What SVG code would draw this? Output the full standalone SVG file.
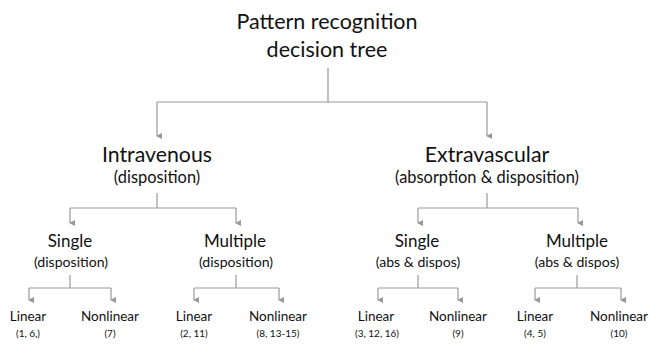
<svg xmlns="http://www.w3.org/2000/svg" width="650" height="349" viewBox="0 0 650 349">
<defs>
<style>
text{font-family:Lato,"Open Sans","Liberation Sans",sans-serif;fill:#111;text-anchor:middle}
.t0{font-size:21.5px}
.t1{font-size:21.3px}
.s1{font-size:16.4px}
.t2{font-size:17px}
.s2{font-size:14.1px}
.t3{font-size:13.5px}
.s3{font-size:10px}
.c{fill:none;stroke:#999;stroke-width:1.2}
</style>
<marker id="ah" markerWidth="6" markerHeight="6" refX="3" refY="5" orient="auto" markerUnits="userSpaceOnUse" viewBox="0 0 6 6">
<path d="M0,0 L6,0 L3,6 Z" fill="#999"/>
</marker>
</defs>
<rect width="650" height="349" fill="#fff"/>
<g id="connectors">
<path class="c" d="M328,68 V102 M157,102 H487"/>
<path class="c" d="M157,102 V136" marker-end="url(#ah)"/>
<path class="c" d="M487,102 V136" marker-end="url(#ah)"/>
<path class="c" d="M157,193 V208 M70,208 H236"/>
<path class="c" d="M70,208 V223" marker-end="url(#ah)"/>
<path class="c" d="M236,208 V223" marker-end="url(#ah)"/>
<path class="c" d="M487,193 V208 M418,208 H578"/>
<path class="c" d="M418,208 V223" marker-end="url(#ah)"/>
<path class="c" d="M578,208 V223" marker-end="url(#ah)"/>
<path class="c" d="M70,275 V288 M29,288 H111"/>
<path class="c" d="M29,288 V300" marker-end="url(#ah)"/>
<path class="c" d="M111,288 V300" marker-end="url(#ah)"/>
<path class="c" d="M236,275 V288 M194,288 H279"/>
<path class="c" d="M194,288 V300" marker-end="url(#ah)"/>
<path class="c" d="M279,288 V300" marker-end="url(#ah)"/>
<path class="c" d="M418,275 V288 M378,288 H458"/>
<path class="c" d="M378,288 V300" marker-end="url(#ah)"/>
<path class="c" d="M458,288 V300" marker-end="url(#ah)"/>
<path class="c" d="M577,275 V288 M535,288 H621"/>
<path class="c" d="M535,288 V300" marker-end="url(#ah)"/>
<path class="c" d="M621,288 V300" marker-end="url(#ah)"/>
</g>
<g id="root"><text class="t0" x="327" y="29">Pattern recognition</text><text class="t0" x="327" y="57">decision tree</text></g>
<g id="iv"><text class="t1" x="157" y="162">Intravenous</text><text class="s1" x="157" y="183">(disposition)</text></g>
<g id="ev"><text class="t1" x="487" y="162">Extravascular</text><text class="s1" x="487" y="183">(absorption &amp; disposition)</text></g>
<g id="iv-single"><text class="t2" x="70" y="247">Single</text><text class="s2" x="71" y="267">(disposition)</text></g>
<g id="iv-multiple"><text class="t2" x="235" y="247">Multiple</text><text class="s2" x="236" y="267">(disposition)</text></g>
<g id="ev-single"><text class="t2" x="417" y="247">Single</text><text class="s2" x="418" y="267">(abs &amp; dispos)</text></g>
<g id="ev-multiple"><text class="t2" x="577" y="247">Multiple</text><text class="s2" x="577" y="267">(abs &amp; dispos)</text></g>
<g id="l1"><text class="t3" x="28" y="321">Linear</text><text class="s3" x="28" y="337">(1, 6,)</text></g>
<g id="n1"><text class="t3" x="110" y="321">Nonlinear</text><text class="s3" x="110" y="337">(7)</text></g>
<g id="l2"><text class="t3" x="194" y="321">Linear</text><text class="s3" x="194" y="337">(2, 11)</text></g>
<g id="n2"><text class="t3" x="278" y="321">Nonlinear</text><text class="s3" x="278" y="337">(8, 13-15)</text></g>
<g id="l3"><text class="t3" x="376" y="321">Linear</text><text class="s3" x="377" y="337">(3, 12, 16)</text></g>
<g id="n3"><text class="t3" x="458" y="321">Nonlinear</text><text class="s3" x="458" y="337">(9)</text></g>
<g id="l4"><text class="t3" x="535" y="321">Linear</text><text class="s3" x="535" y="337">(4, 5)</text></g>
<g id="n4"><text class="t3" x="619" y="321">Nonlinear</text><text class="s3" x="619" y="337">(10)</text></g>
</svg>
